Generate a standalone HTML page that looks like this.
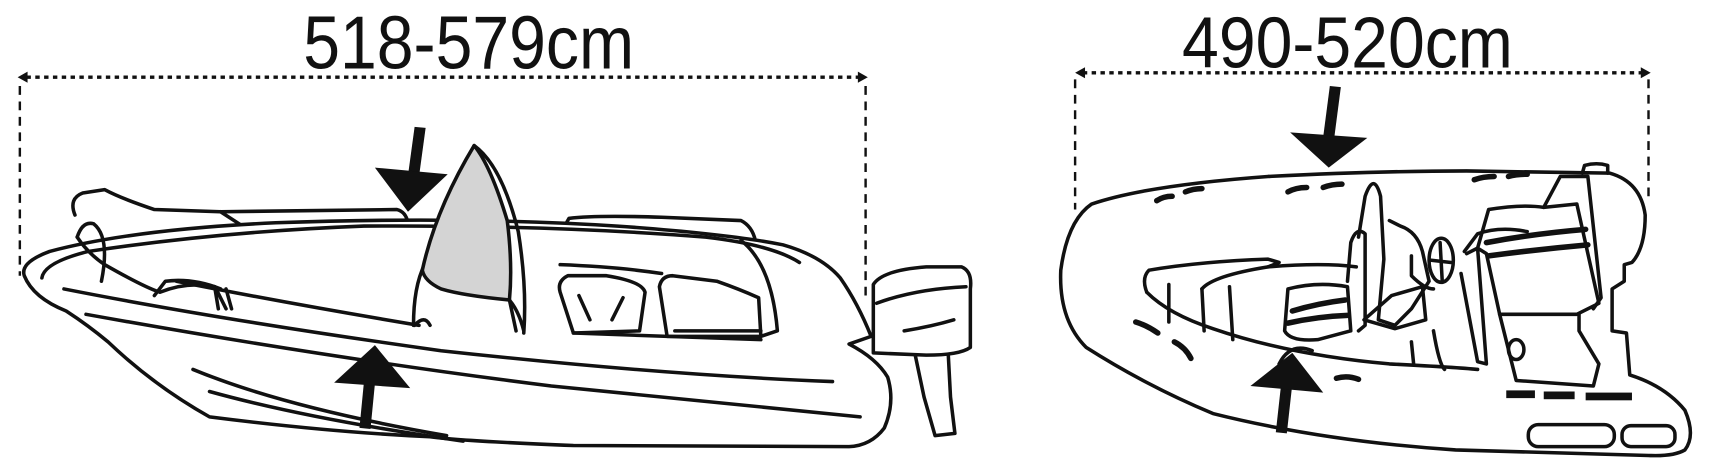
<!DOCTYPE html>
<html><head><meta charset="utf-8"><style>
html,body{margin:0;padding:0;background:#fff;}
svg{display:block;}
text{font-family:"Liberation Sans",sans-serif;fill:#111;}
</style></head><body>
<svg width="1729" height="472" viewBox="0 0 1568 428" preserveAspectRatio="none" xmlns="http://www.w3.org/2000/svg">
<g fill="none" stroke="#111">
<g stroke-width="3" stroke-dasharray="4 4">
<line x1="24" y1="70" x2="779" y2="70"/>
<line x1="982" y1="66" x2="1491" y2="66"/>
</g>
<g stroke-width="2.2" stroke-dasharray="8 6">
<line x1="18" y1="78" x2="18" y2="250"/>
<line x1="785" y1="78" x2="785" y2="268"/>
<line x1="975" y1="72" x2="975" y2="190"/>
<line x1="1495" y1="72" x2="1495" y2="180"/>
</g>
</g>
<g fill="#111">
<polygon points="16,70 25,65 25,75"/>
<polygon points="787,70 778,65 778,75"/>
<polygon points="975,66 984,61 984,71"/>
<polygon points="1497,66 1488,61 1488,71"/>
</g>
<text x="275" y="62" font-size="68" textLength="300" lengthAdjust="spacingAndGlyphs">518-579cm</text>
<text x="1072" y="61" font-size="66" textLength="300" lengthAdjust="spacingAndGlyphs">490-520cm</text>

<!-- LEFT BOAT -->
<g fill="none" stroke="#111" stroke-width="3.2" stroke-linecap="round" stroke-linejoin="round">
<path d="M792,258 Q800,245 840,242 L872,242 Q882,246 880,262 L880,315 Q870,322 840,322 L792,320 Z" fill="#fff"/>
<path d="M795,275 Q830,262 876,260"/>
<path d="M820,300 Q845,296 865,290"/>
<path d="M830,322 L838,360 L848,395 L866,393 L862,360 L860,322"/>
<path d="M68,195 Q62,180 75,175 L95,172 Q110,180 140,190 L200,192 L360,190 Q368,192 370,202"/>
<path d="M200,192 L220,205"/>
<path d="M512,205 L516,198 Q540,195 600,197 L672,200 Q682,205 685,218"/>
<path d="M22,250 Q18,238 45,228 Q120,208 250,202 Q420,196 560,205 Q660,212 710,222 Q745,232 762,252 Q778,275 790,305 L770,312 Q795,325 805,342 Q812,365 802,388 Q790,404 770,405 L520,404 Q420,400 390,396 Q300,392 190,378 Q140,350 98,310 Q80,295 60,282 Q30,270 22,250 Z" fill="#fff"/>
<path d="M38,252 Q40,238 80,228 Q200,210 330,205 Q500,204 640,215 Q700,222 725,238"/>
<path d="M58,262 Q200,290 400,318 Q600,340 755,346"/>
<path d="M78,285 Q300,325 500,350 Q650,365 780,378"/>
<path d="M175,335 Q260,370 405,395"/>
<path d="M190,355 Q280,380 420,400"/>
<path d="M70,215 Q75,200 85,203 Q100,215 92,255"/>
<path d="M70,215 Q80,230 95,240 Q130,260 145,265 Q170,255 195,260 L205,280"/>
<path d="M140,268 L150,255 Q175,252 200,262"/>
<path d="M205,262 L210,280 M195,262 L198,280"/>
<path d="M160,255 Q260,275 380,295"/>
<path d="M375,295 Q375,260 385,240 M460,270 Q470,280 475,300"/>
<path d="M376,295 Q385,285 390,295"/>
<path d="M430,132 Q445,150 460,200 Q465,240 462,272 Q420,268 400,262 Q385,255 383,245 Q395,190 430,132 Z" fill="#d4d4d4"/>
<path d="M430,132 Q455,150 470,210 Q478,260 475,302"/>
<path d="M462,272 L468,300"/>
<path d="M508,265 Q505,255 515,250 L550,250 Q582,255 585,265 L580,300 L520,302 Z"/>
<path d="M525,268 L535,290 M565,270 L555,290"/>
<path d="M598,260 Q600,250 610,250 L650,255 Q670,262 688,270 L690,305 L605,305 Z"/>
<path d="M508,240 Q560,242 600,248 M612,300 L690,300"/>
<path d="M672,218 Q700,240 705,300 L690,305"/>
<path d="M520,302 L690,308"/>
</g>
<g fill="#111">
<polygon points="376,115 386,116 380,160 370,159"/>
<polygon points="340,152 406,158 370,192"/>
<polygon points="326,388 336,389 340,348 330,347"/>
<polygon points="303,347 372,352 340,313"/>
</g>

<!-- RIGHT BOAT -->
<g fill="none" stroke="#111" stroke-width="3.2" stroke-linecap="round" stroke-linejoin="round">
<path d="M990,185 Q1040,168 1150,160 Q1250,155 1330,155 L1460,157 Q1488,165 1492,195 Q1492,225 1480,238 L1473,240 L1473,255 L1462,262 L1462,300 L1475,302 L1478,340 Q1510,350 1528,372 Q1538,395 1528,408 Q1518,414 1495,413 L1320,408 Q1200,400 1100,375 Q1040,350 985,315 Q960,290 962,245 Q968,200 990,185 Z" fill="#fff"/>
<path d="M1435,157 L1437,150 Q1448,147 1458,150 L1458,157"/>
<path d="M1040,265 Q1035,252 1042,245 Q1090,237 1150,235 L1160,238 L1150,242 Q1100,250 1090,262"/>
<path d="M1040,265 Q1060,285 1100,298 Q1170,322 1260,330 Q1320,333 1340,335"/>
<path d="M1060,258 L1060,292 M1090,262 L1092,300 M1115,260 L1118,308"/>
<path d="M1150,242 Q1200,238 1230,242"/>
<path d="M1232,215 L1238,178 Q1246,155 1252,178 L1255,235 L1250,290 L1265,295 L1280,280 L1296,255 L1290,228 Q1285,210 1270,205 L1260,200"/>
<path d="M1222,255 L1225,220 Q1230,205 1238,212 L1238,295 L1232,300"/>
<path d="M1280,232 L1280,250 Q1292,262 1300,262"/>
<ellipse cx="1307" cy="236" rx="11" ry="20"/>
<path d="M1298,236 L1316,238 M1306,220 L1308,256"/>
<path d="M1168,262 L1165,300 Q1170,310 1195,308 L1225,300 L1222,260 Q1195,255 1168,262 Z"/>
<path d="M1237,290 L1265,298 L1293,290 L1290,260 L1262,268 Z"/>
<path d="M1160,330 Q1170,310 1190,318 M1280,310 L1282,330 M1300,300 Q1305,330 1310,335"/>
<path d="M1328,228 L1340,212 Q1360,205 1385,210"/>
<path d="M1325,248 L1340,328 L1348,330 L1340,225 L1330,230"/>
<path d="M1340,225 L1350,190 Q1380,185 1400,188 L1430,185 L1440,230 L1450,275 L1430,285 L1360,285 L1348,230 Z"/>
<path d="M1360,285 L1375,345 L1445,350 L1450,330 L1432,300 L1432,285"/>
<path d="M1400,188 L1415,160 L1440,160 L1452,270 L1445,280"/>
<ellipse cx="1375" cy="317" rx="7" ry="9"/>
<rect x="1386" y="385" width="78" height="20" rx="9"/>
<rect x="1471" y="386" width="48" height="19" rx="8"/>
</g>
<g fill="none" stroke="#111" stroke-width="5" stroke-linecap="round">
<path d="M1049,182 Q1055,178 1063,178 M1075,174 Q1082,171 1090,171"/>
<path d="M1168,174 Q1175,170 1185,170 M1200,170 Q1208,167 1217,167"/>
<path d="M1337,163 Q1345,160 1355,160 M1368,160 Q1375,158 1385,158"/>
<path d="M1030,292 Q1040,295 1050,302 M1065,310 Q1075,315 1080,325"/>
<path d="M1212,343 Q1222,340 1232,344"/>
<path d="M1172,282 Q1195,275 1220,272 M1168,293 Q1195,287 1222,286"/>
<path d="M1348,220 Q1390,212 1438,208 M1350,232 Q1395,226 1440,222"/>
</g>
<g fill="#111">
<rect x="1366" y="354" width="26" height="7"/>
<rect x="1400" y="355" width="28" height="7"/>
<rect x="1438" y="356" width="42" height="7"/>
<polygon points="1206,78 1216,79 1210,125 1200,124"/>
<polygon points="1170,120 1240,125 1205,152"/>
<polygon points="1157,392 1167,393 1172,348 1162,347"/>
<polygon points="1134,350 1200,356 1172,320"/>
</g>
</svg>
</body></html>
